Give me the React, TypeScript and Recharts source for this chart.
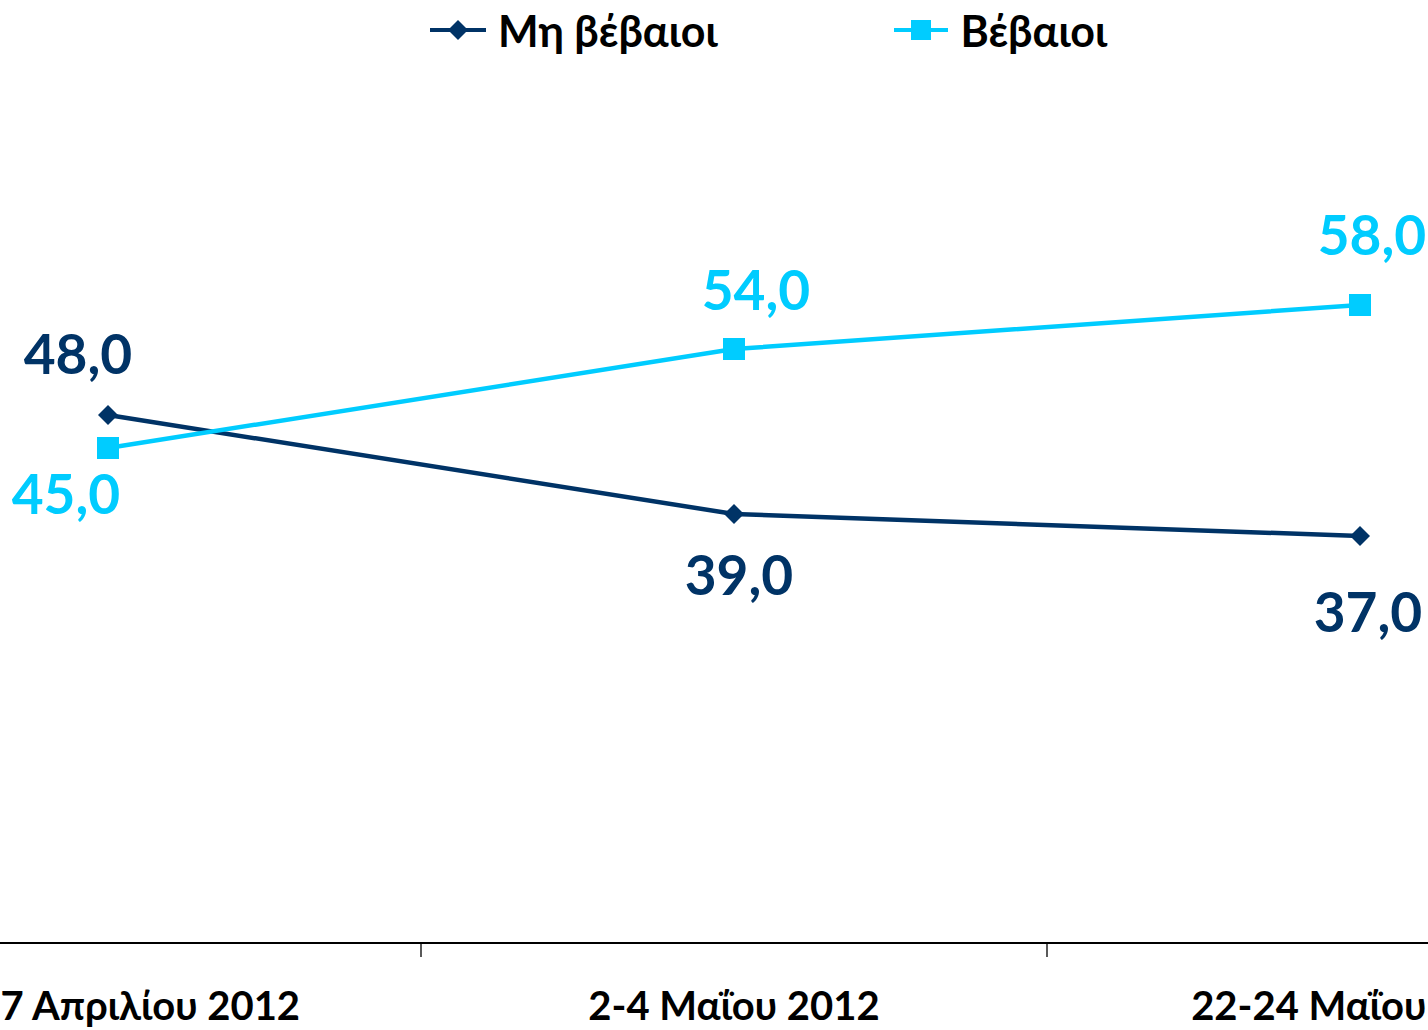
import React from 'react';
import { LineChart, Line, XAxis, YAxis, Legend, LabelList } from 'recharts';

const categories = ['25-27 Απριλίου 2012', '2-4 Μαΐου 2012', '22-24 Μαΐου 2012'];
const notSure = [48, 39, 37];
const sure = [45, 54, 58];
const seriesNames = ['Μη βέβαιοι', 'Βέβαιοι'];

const data = categories.map((c, i) => ({ date: c, notSure: notSure[i], sure: sure[i] }));

// label placement per point (offset from the marker, in px)
const notSureLabelPos = [
  { dx: -30, dy: -41 },
  { dx: 5, dy: 81 },
  { dx: 8, dy: 96 },
];
const sureLabelPos = [
  { dx: -42, dy: 66 },
  { dx: 22, dy: -39 },
  { dx: 12, dy: -50 },
];

const DARK = '#003366';
const LIGHT = '#00CCFF';
const FONT = "Lato, 'Noto Sans', sans-serif";

const PLOT_W = 1878;
const BAND = PLOT_W / categories.length;
const LEGEND_H = 48;

const Diamond = (props: any) => {
  const { cx, cy, fill, size = 10 } = props;
  if (cx == null || cy == null) return null;
  return (
    <path
      d={`M${cx},${cy - size} L${cx + size},${cy} L${cx},${cy + size} L${cx - size},${cy} Z`}
      fill={fill}
    />
  );
};

const Square = (props: any) => {
  const { cx, cy, fill, size = 11 } = props;
  if (cx == null || cy == null) return null;
  return <rect x={cx - size} y={cy - size} width={size * 2} height={size * 2} fill={fill} />;
};

const makeLabel = (pos: { dx: number; dy: number }[], color: string) => (props: any) => {
  const { x, y, value, index } = props;
  const p = pos[index] || { dx: 0, dy: 0 };
  return (
    <text
      x={x + p.dx}
      y={y + p.dy}
      textAnchor="middle"
      fill={color}
      fontFamily={FONT}
      fontWeight={700}
      fontSize={55}
    >
      {Number(value).toFixed(1).replace('.', ',')}
    </text>
  );
};

const AxisTick = (props: any) => {
  const { x, y, payload } = props;
  return (
    <g>
      <line x1={x - BAND / 2} y1={y - 8} x2={x - BAND / 2} y2={y + 6} stroke="#000" strokeWidth={1.3} />
      <text
        x={x}
        y={y + 69}
        textAnchor="middle"
        fill="#000"
        fontFamily={FONT}
        fontWeight={700}
        fontSize={40}
      >
        {payload.value}
      </text>
    </g>
  );
};

const CustomLegend = () => (
  <div style={{ display: 'flex', alignItems: 'center', height: LEGEND_H, fontFamily: FONT, fontWeight: 700, fontSize: 43, color: '#000' }}>
    <svg width={56} height={24} style={{ marginRight: 12 }}>
      <line x1={0} y1={12} x2={56} y2={12} stroke={DARK} strokeWidth={4} />
      <Diamond cx={28} cy={12} fill={DARK} size={10} />
    </svg>
    <span style={{ marginRight: 177 }}>{seriesNames[0]}</span>
    <svg width={54} height={24} style={{ marginRight: 12 }}>
      <line x1={0} y1={12} x2={54} y2={12} stroke={LIGHT} strokeWidth={4} />
      <Square cx={27} cy={12} fill={LIGHT} size={10} />
    </svg>
    <span>{seriesNames[1]}</span>
  </div>
);

export default function App() {
  return (
    <div style={{ position: 'fixed', left: 0, top: 0, width: 1428, height: 1030, overflow: 'hidden', background: '#fff' }}>
      <div style={{ position: 'absolute', left: -205, top: 0 }}>
        <LineChart width={PLOT_W} height={1030} data={data} margin={{ top: 63 - LEGEND_H, right: 0, left: 0, bottom: 0 }}>
          <XAxis
            dataKey="date"
            height={87}
            axisLine={{ stroke: '#000', strokeWidth: 2 }}
            tickLine={false}
            tick={<AxisTick />}
            interval={0}
            padding={{ left: BAND / 2, right: BAND / 2 }}
          />
          <YAxis hide domain={[0, 80]} />
          <Legend
            verticalAlign="top"
            align="left"
            height={LEGEND_H}
            content={<CustomLegend />}
            wrapperStyle={{ top: 6, left: 635, width: 'auto' }}
          />
          <Line
            dataKey="notSure"
            name={seriesNames[0]}
            stroke={DARK}
            strokeWidth={4.5}
            dot={<Diamond fill={DARK} size={10} />}
            activeDot={false}
            isAnimationActive={false}
          >
            <LabelList dataKey="notSure" content={makeLabel(notSureLabelPos, DARK)} />
          </Line>
          <Line
            dataKey="sure"
            name={seriesNames[1]}
            stroke={LIGHT}
            strokeWidth={4.5}
            dot={<Square fill={LIGHT} size={11} />}
            activeDot={false}
            isAnimationActive={false}
          >
            <LabelList dataKey="sure" content={makeLabel(sureLabelPos, LIGHT)} />
          </Line>
        </LineChart>
      </div>
    </div>
  );
}
